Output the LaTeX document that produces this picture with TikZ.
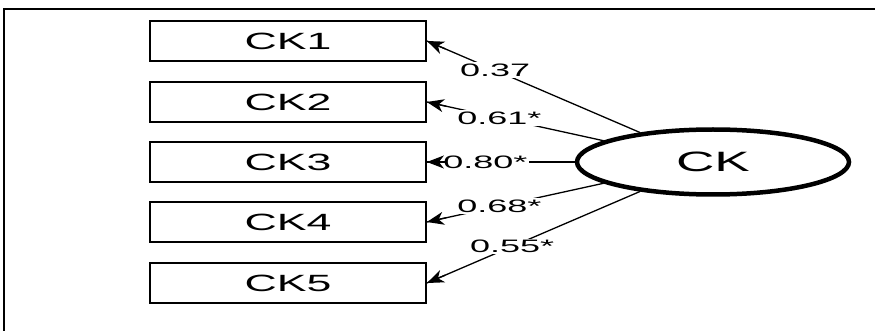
\documentclass[tikz,border=0pt]{standalone}
\usepackage{fontspec}
\setmainfont{Liberation Sans}
\usepackage{graphicx}
\usetikzlibrary{arrows.meta,shapes.geometric,calc}
\newcommand{\widetxt}[2]{\scalebox{#1}[1]{#2}}
\tikzset{
  box/.style={draw, line width=1.8pt, minimum width=276pt, minimum height=40pt, inner sep=0pt, font=\fontsize{23.5}{24}\selectfont},
  latent/.style={ellipse, draw, line width=4.5pt, minimum width=272pt, minimum height=65pt, inner sep=0pt, font=\fontsize{28}{28}\selectfont},
  loadline/.style={line width=1.3pt},
  tipline/.style={line width=1.3pt, -{Stealth[length=17pt,width=13pt,inset=5pt]}},
  coef/.style={fill=white, inner sep=1.5pt, font=\fontsize{18}{18}\selectfont},
}
\begin{document}
\begin{tikzpicture}[x=1pt,y=-1pt]
\useasboundingbox (0,0) rectangle (875,331);
\draw[line width=2pt] (4,331) -- (4,9) -- (875,9);
\node[box] (ck1) at (288,41) {\widetxt{1.9}{CK1}};
\node[box] (ck2) at (288,102) {\widetxt{1.9}{CK2}};
\node[box] (ck3) at (288,162) {\widetxt{1.9}{CK3}};
\node[box] (ck4) at (288,222) {\widetxt{1.9}{CK4}};
\node[box] (ck5) at (288,283) {\widetxt{1.9}{CK5}};
\node[latent] (ck) at (713,162) {\widetxt{1.9}{CK}};
\draw[loadline] (ck.158) -- node[coef,pos=0.68] (l1) {\widetxt{2}{0.37}} (ck1.east);
\draw[loadline] (ck.169) -- node[coef,pos=0.59] (l2) {\widetxt{2}{0.61*}} (ck2.east);
\draw[loadline] (ck.180) -- node[coef,pos=0.605] (l3) {\widetxt{2}{0.80*}} (ck3.east);
\draw[loadline] (ck.191) -- node[coef,pos=0.59] (l4) {\widetxt{2}{0.68*}} (ck4.east);
\draw[loadline] (ck.202) -- node[coef,pos=0.60] (l5) {\widetxt{2}{0.55*}} (ck5.east);
\draw[tipline] ($(ck1.east)!20pt!(ck.158)$) -- (ck1.east);
\draw[tipline] ($(ck2.east)!20pt!(ck.169)$) -- (ck2.east);
\draw[tipline] ($(ck3.east)!20pt!(ck.180)$) -- (ck3.east);
\draw[tipline] ($(ck4.east)!20pt!(ck.191)$) -- (ck4.east);
\draw[tipline] ($(ck5.east)!20pt!(ck.202)$) -- (ck5.east);
\end{tikzpicture}
\end{document}
